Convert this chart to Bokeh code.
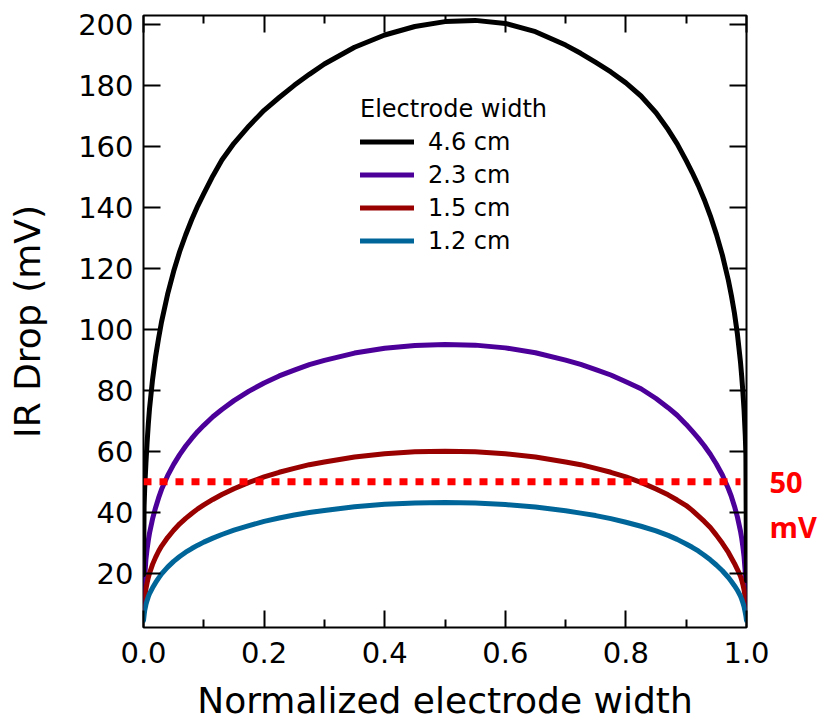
from bokeh.plotting import figure
from bokeh.models import (Range1d, LinearAxis, FixedTicker, PrintfTickFormatter,
                          Legend, LegendItem, ColumnDataSource,
                          CustomLabelingPolicy, CustomJSTickFormatter)
from bokeh.embed import file_html
from bokeh.resources import INLINE

# Position across the electrode, normalized to its width
x_pos = [0.0, 0.001, 0.002, 0.004, 0.006, 0.008, 0.01, 0.015, 0.02, 0.025,
         0.03, 0.04, 0.05, 0.06, 0.07, 0.08, 0.09, 0.1, 0.115, 0.13,
         0.15, 0.175, 0.2, 0.225, 0.25, 0.275, 0.3, 0.35, 0.4, 0.45,
         0.5, 0.55, 0.6, 0.65, 0.7, 0.725, 0.75, 0.775, 0.8, 0.825,
         0.85, 0.87, 0.885, 0.9, 0.91, 0.92, 0.93, 0.94, 0.95, 0.96,
         0.97, 0.975, 0.98, 0.985, 0.99, 0.992, 0.994, 0.996, 0.998, 0.999,
         1.0]

# IR drop (mV) for each electrode width
ir_4_6 = [19.5, 42, 48, 56, 63, 69, 74, 83.5, 91, 97,
          102.5, 111.5, 119, 125.5, 131, 136, 140.5, 144.5, 150.3, 155.5,
          161, 166.7, 171.8, 176, 180, 183.6, 187, 192.5, 196.5, 199.3,
          200.9, 201.3, 200.3, 197.6, 193.2, 190.5, 187.5, 184.4, 180.8, 176.5,
          171, 165.5, 160.8, 155.3, 151.4, 147.2, 142.5, 137.2, 131.2, 124.3,
          116, 111, 105.3, 98.3, 89.3, 84.7, 79.5, 73.3, 65, 59,
          17.5]
ir_2_3 = [6.5, 15, 19, 24.5, 28, 30.8, 33.2, 37.8, 41.5, 44.7,
          47.5, 52, 55.7, 58.9, 61.7, 64.2, 66.5, 68.5, 71.3, 73.7,
          76.6, 79.7, 82.4, 84.7, 86.6, 88.4, 89.8, 92.2, 93.8, 94.7,
          95, 94.8, 93.9, 92.3, 89.9, 88.5, 86.8, 85, 82.8, 80.5,
          77.3, 74.3, 71.8, 68.8, 66.6, 64.3, 61.8, 59, 55.8, 52.2,
          47.7, 45.1, 42, 38.4, 33.8, 31.5, 28.7, 25.3, 20.2, 16.2,
          8]
ir_1_5 = [7, 9.5, 11.8, 14.8, 16.9, 18.6, 20, 22.9, 25.2, 27.2,
          28.9, 31.7, 34.1, 36.2, 38, 39.6, 41.1, 42.4, 44.2, 45.8,
          47.7, 49.8, 51.6, 53.1, 54.4, 55.6, 56.5, 58.1, 59.2, 59.8,
          60, 59.8, 59.2, 58.1, 56.5, 55.6, 54.4, 53.1, 51.6, 49.8,
          47.6, 45.7, 44, 42.2, 40.6, 38.8, 37, 35, 32.5, 29.8,
          26.8, 25, 23.2, 21.2, 19, 17.8, 16.3, 14.5, 11.8, 9.8,
          8]
ir_1_2 = [4.5, 6.2, 7.8, 9.7, 11.1, 12.3, 13.3, 15.2, 16.9, 18.4,
          19.8, 22, 23.9, 25.5, 26.9, 28.1, 29.2, 30.2, 31.5, 32.7,
          34.1, 35.6, 37, 38.1, 39.1, 39.9, 40.6, 41.8, 42.6, 43.05,
          43.2, 43, 42.5, 41.7, 40.5, 39.7, 38.9, 37.9, 36.7, 35.4,
          33.9, 32.4, 31.1, 29.6, 28.5, 27.3, 25.9, 24.4, 22.7, 20.8,
          18.6, 17.3, 15.9, 14.4, 12.5, 11.5, 10.3, 9, 7, 6,
          4.5]

width_labels = ["4.6 cm", "2.3 cm", "1.5 cm", "1.2 cm"]
series = [ir_4_6, ir_2_3, ir_1_5, ir_1_2]
colors = ["#000000", "#4c0099", "#990000", "#006699"]

threshold_mv = 50
threshold_x = [0.0, 0.99]

x_ticks = [0.0, 0.2, 0.4, 0.6, 0.8, 1.0]
x_minor = [0.1, 0.3, 0.5, 0.7, 0.9]
y_ticks = [20, 40, 60, 80, 100, 120, 140, 160, 180, 200]

FONT = "DejaVu Sans"
Y0, Y1 = 2.2, 202.9
FRAME_H = 612

p = figure(width=819, height=724,
           x_range=Range1d(0, 1), y_range=Range1d(Y0, Y1),
           output_backend="svg", toolbar_location=None,
           min_border_left=143, min_border_right=72,
           min_border_top=15, min_border_bottom=97)

p.grid.visible = False
p.outline_line_color = "black"
p.outline_line_width = 2
p.background_fill_color = "white"
p.border_fill_color = "white"

no_labels = CustomLabelingPolicy(code="return new Set()")


def style_axis(ax, ticker, labels_visible):
    ax.ticker = ticker
    ax.axis_line_color = None
    ax.major_tick_line_color = "black"
    ax.minor_tick_line_color = "black"
    ax.major_tick_line_width = 2
    ax.minor_tick_line_width = 2
    ax.major_tick_out = 0
    ax.minor_tick_out = 0
    ax.major_tick_in = 17
    ax.minor_tick_in = 8
    if not labels_visible:
        ax.major_label_policy = no_labels
        ax.major_label_text_font_size = "2px"
        ax.major_label_standoff = 0


xa = p.xaxis[0]
style_axis(xa, FixedTicker(ticks=x_ticks, minor_ticks=x_minor), True)
xa.formatter = PrintfTickFormatter(format="%.1f")
xa.major_label_text_font = FONT
xa.major_label_text_font_size = "29px"
xa.major_label_text_color = "black"
xa.major_label_standoff = 14
xa.axis_label = "Normalized electrode width"
xa.axis_label_text_font = FONT
xa.axis_label_text_font_size = "36px"
xa.axis_label_text_font_style = "normal"
xa.axis_label_text_color = "black"
xa.axis_label_standoff = 14

ya = p.yaxis[0]
style_axis(ya, FixedTicker(ticks=y_ticks, minor_ticks=[]), True)
ya.major_label_text_font = FONT
ya.major_label_text_font_size = "29px"
ya.major_label_text_color = "black"
ya.major_label_standoff = 10
ya.axis_label = "IR Drop (mV)"
ya.axis_label_text_font = FONT
ya.axis_label_text_font_size = "36px"
ya.axis_label_text_font_style = "normal"
ya.axis_label_text_color = "black"
ya.axis_label_standoff = 27

# Mirror ticks on the top and right edges of the frame
top_axis = LinearAxis()
style_axis(top_axis, FixedTicker(ticks=x_ticks, minor_ticks=x_minor), False)
p.add_layout(top_axis, "above")

right_axis = LinearAxis()
style_axis(right_axis, FixedTicker(ticks=y_ticks, minor_ticks=[]), False)
p.add_layout(right_axis, "right")

# Threshold caption on the right edge: value at the threshold, unit just below it
mv_tick = round(threshold_mv - 45 * (Y1 - Y0) / FRAME_H, 2)
caption_axis = LinearAxis(
    ticker=FixedTicker(ticks=[threshold_mv, mv_tick], minor_ticks=[]),
    formatter=CustomJSTickFormatter(
        code=f"return tick == {threshold_mv} ? '{threshold_mv}' : 'mV'"),
    axis_line_color=None, major_tick_line_color=None, minor_tick_line_color=None,
    major_tick_in=0, major_tick_out=0, minor_tick_in=0, minor_tick_out=0,
    major_label_standoff=17,
    major_label_text_font="Open Sans", major_label_text_font_style="bold",
    major_label_text_font_size="29px", major_label_text_color="#ff0000",
)
p.add_layout(caption_axis, "right")

# Curves: thinner electrodes first, widest electrode on top
renderers = {}
for i in [1, 2, 3, 0]:
    src = ColumnDataSource(data=dict(x=x_pos, y=series[i]))
    renderers[i] = p.line("x", "y", source=src, line_color=colors[i], line_width=5,
                          line_join="round", line_cap="round")

# 50 mV threshold
thr_src = ColumnDataSource(data=dict(x=threshold_x, y=[threshold_mv] * len(threshold_x)))
p.line("x", "y", source=thr_src, line_color="#ff0000", line_width=7,
       line_dash="8 8", line_cap="butt")

legend = Legend(
    items=[LegendItem(label=width_labels[i], renderers=[renderers[i]]) for i in range(4)],
    title="Electrode width",
    location=(217, 370),
    title_text_font=FONT, title_text_font_size="24px", title_text_font_style="normal",
    title_text_color="black",
    label_text_font=FONT, label_text_font_size="24px", label_text_color="black",
    glyph_width=54, glyph_height=33, label_height=33, spacing=0,
    label_standoff=14, padding=0, margin=0, title_standoff=2,
    border_line_color=None, background_fill_alpha=0,
)
p.add_layout(legend)

open("out.html", "w").write(file_html(p, INLINE))
